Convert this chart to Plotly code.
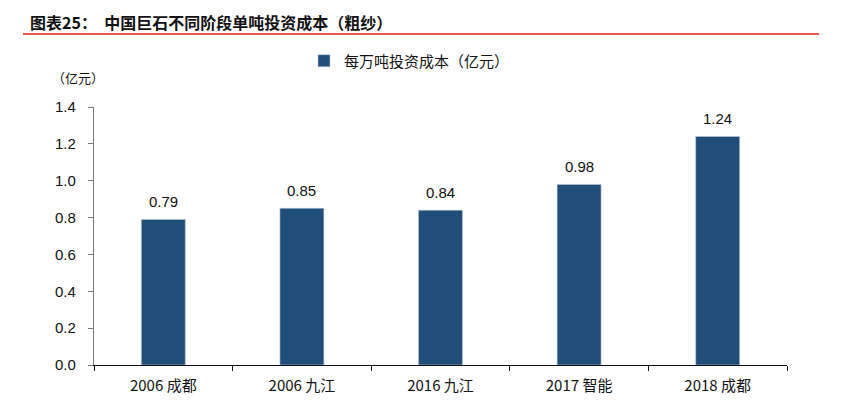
import plotly.graph_objects as go

# data ------------------------------------------------------------
categories = ['2006 成都', '2006 九江', '2016 九江', '2017 智能', '2018 成都']
cost = [0.79, 0.85, 0.84, 0.98, 1.24]
series_name = '每万吨投资成本（亿元）'
title_text = '图表25：  中国巨石不同阶段单吨投资成本（粗纱）'
unit_text = '（亿元）'
y_ticks = [0.0, 0.2, 0.4, 0.6, 0.8, 1.0, 1.2, 1.4]

bar_color = '#1F4E79'
cjk = 'Noto Sans CJK SC, Liberation Sans, sans-serif'
num = 'Liberation Sans, Arial, sans-serif'

# page body adds an 8px margin, so work in a slightly smaller figure
O = 8
W, H = 853 - O, 417 - O
L, R, T, B = 94 - O, 787 - O, 107 - O, 365 - O
pw, ph = R - L, B - T

fig = go.Figure()
fig.add_trace(go.Bar(x=categories, y=cost, name=series_name,
                     marker=dict(color=bar_color, line=dict(color='#B8C6D4', width=0.6)),
                     width=0.317))

# value labels above bars
for c, v in zip(categories, cost):
    fig.add_annotation(x=c, y=v, text='%.2f' % v, showarrow=False,
                       yanchor='bottom', yshift=7,
                       font=dict(family=num, size=15, color='#111111'))

fig.update_layout(
    width=W, height=H,
    margin=dict(l=L, r=W - R, t=T, b=H - B, autoexpand=False),
    plot_bgcolor='white', paper_bgcolor='white',
    showlegend=True,
    legend=dict(x=(304 - O - L) / pw, y=(B - (61 - O)) / ph, xanchor='left', yanchor='middle',
                orientation='h', font=dict(family=cjk, size=15, color='#111111'),
                bgcolor='rgba(0,0,0,0)'),
    title=dict(text='<b>' + title_text + '</b>', xref='container', yref='container',
               x=(30 - O) / W, y=1 - (23 - O) / H, xanchor='left', yanchor='middle',
               font=dict(family=cjk, size=16, color='#111111')),
)

# red rule under the title
fig.add_shape(type='line', xref='paper', yref='paper',
              x0=(23 - O - L) / pw, x1=(819 - O - L) / pw,
              y0=(B - (34 - O)) / ph, y1=(B - (34 - O)) / ph,
              line=dict(color='#E8190F', width=1.6))

# unit label
fig.add_annotation(xref='paper', yref='paper', x=(50 - O - L) / pw, y=(B - (77 - O)) / ph,
                   xanchor='left', yanchor='middle', text=unit_text, showarrow=False,
                   font=dict(family=cjk, size=13, color='#111111'))

fig.update_xaxes(showline=True, linecolor='#111111', linewidth=1.2,
                 ticks='outside', tickson='boundaries', ticklen=5, tickcolor='#111111',
                 ticklabelstandoff=7,
                 tickfont=dict(family=cjk, size=15, color='#111111'),
                 showgrid=False)
fig.update_yaxes(range=[0, 1.4], tickvals=y_ticks, tickformat='.1f',
                 showline=True, linecolor='#777777', linewidth=1.2,
                 ticks='outside', ticklen=5, tickcolor='#777777',
                 ticklabelstandoff=9,
                 tickfont=dict(family=num, size=15, color='#111111'),
                 showgrid=False, zeroline=False)

fig.write_html("out.html")
